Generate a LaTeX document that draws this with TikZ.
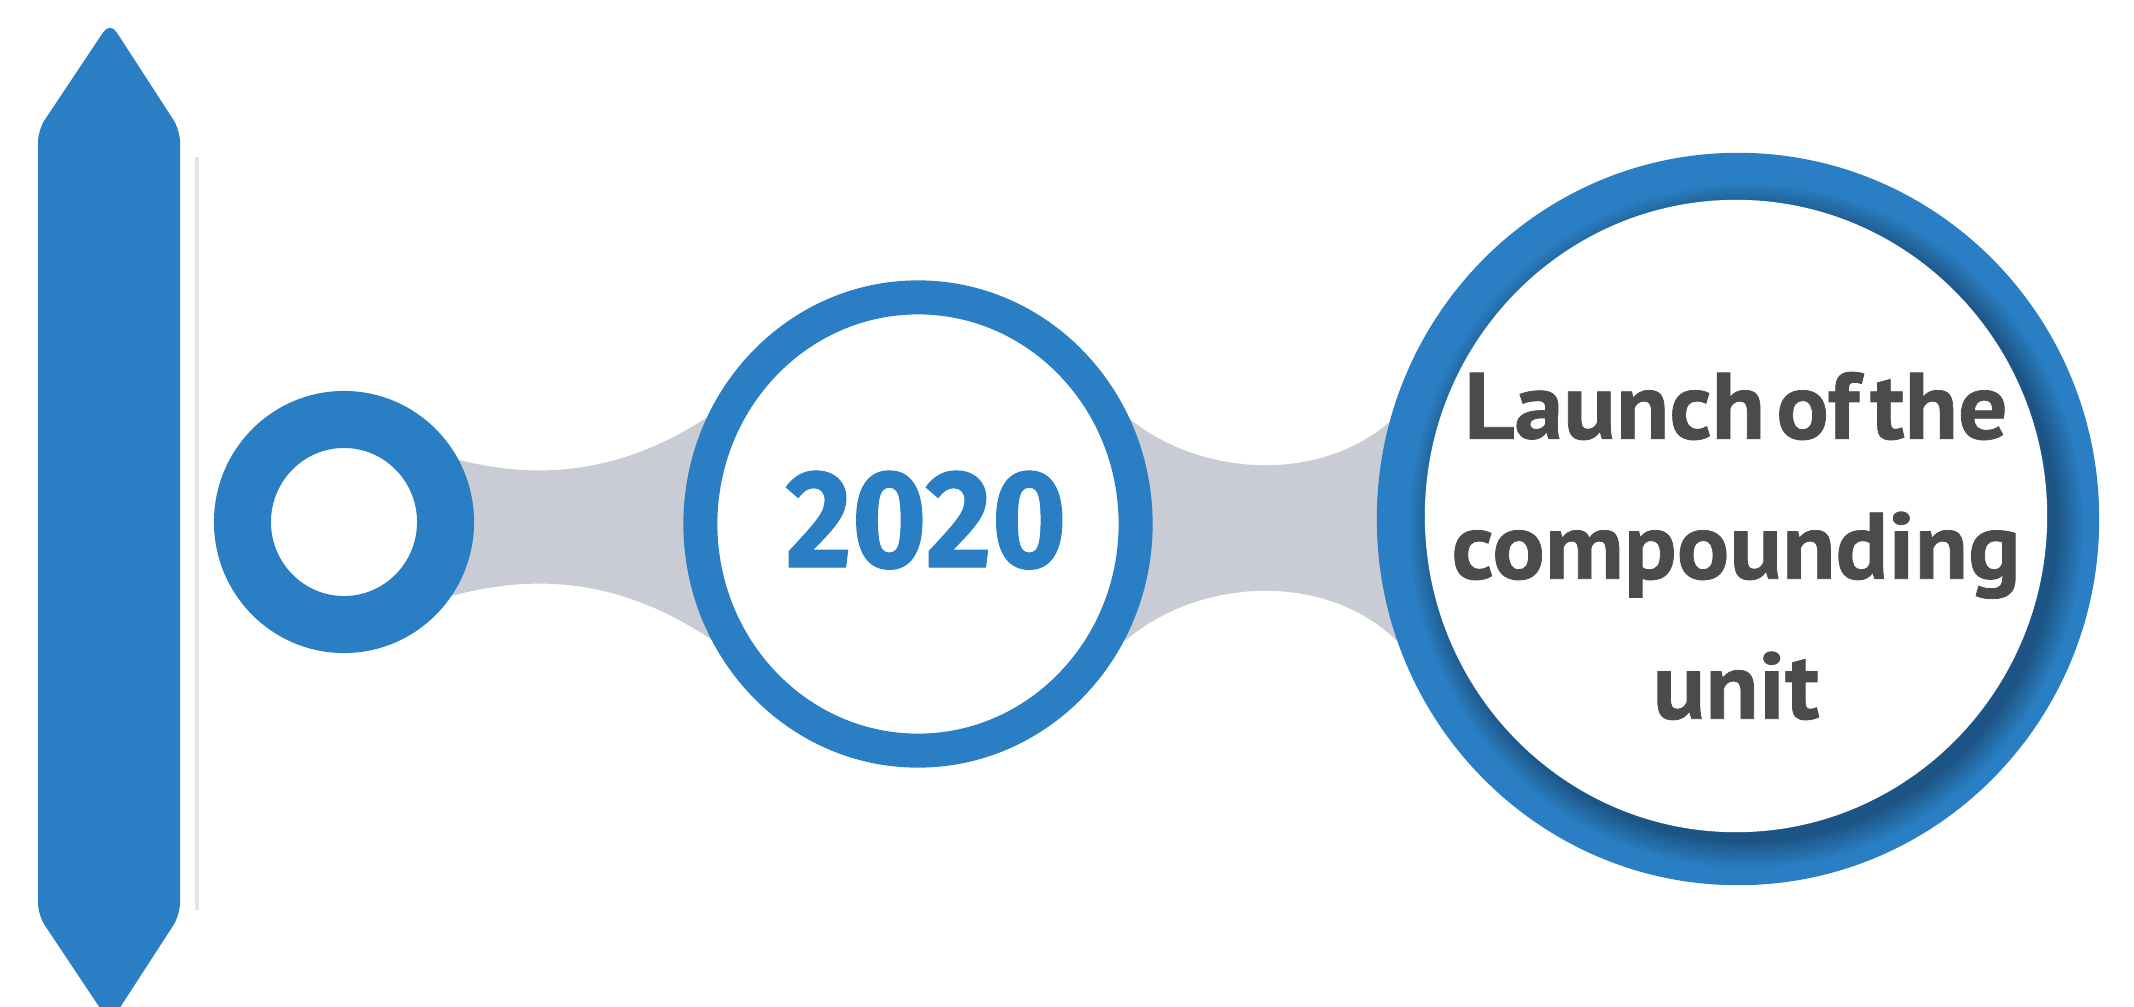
\documentclass[tikz,border=0pt]{standalone}
\usepackage{fontspec}
\usetikzlibrary{shapes.geometric}
\newfontfamily\ptsans{PT Sans}[FakeStretch=1.04, WordSpace=0.45, FakeBold=0.8]
\newfontfamily\yearfont{Fira Sans}[FakeStretch=0.92, FakeBold=0.8]
\definecolor{ringblue}{HTML}{2A7EC3}
\definecolor{linkgray}{HTML}{C9CBD5}
\definecolor{textgray}{HTML}{4B4B4D}
\definecolor{railgray}{HTML}{E4E4E8}
\tikzset{
  ringnode/.style={ellipse, draw=ringblue, fill=white, inner sep=0pt, outer sep=0pt},
  discnode/.style={ellipse, inner sep=0pt, outer sep=0pt},
  linkshape/.style={fill=linkgray},
}
\begin{document}
\begin{tikzpicture}[x=0.01cm,y=-0.01cm]
\useasboundingbox (0,0) rectangle (2134,1006);
\fill[white] (0,0) rectangle (2134,1006);
\clip (0,0) rectangle (2134,1006);

% connectors (behind the rings)
\fill[linkshape] (440,455) .. controls (520,478) and (615,485) .. (725,405)
  -- (725,649) .. controls (615,569) and (520,576) .. (440,599) -- cycle;
\fill[linkshape] (1125,415) .. controls (1200,480) and (1330,485) .. (1400,412)
  -- (1400,644) .. controls (1330,571) and (1200,576) .. (1125,641) -- cycle;

% left bar and thin rail
\fill[ringblue, rounded corners=0.12cm] (38,915) -- (38,130) -- (110,22) -- (180,130) -- (180,915) -- (110,1023) -- cycle;
\draw[railgray, line width=0.9pt] (197,157) -- (197,910);

% small ring
\node[ringnode, line width=0.57cm, minimum width=2.03cm, minimum height=2.05cm] (r1) at (344,522) {};

% middle ring
\node[ringnode, line width=0.34cm, minimum width=4.35cm, minimum height=4.53cm] (r2) at (918,524) {};
\node[anchor=base, text=ringblue, font=\yearfont\bfseries\fontsize{39.6}{40}\selectfont, inner sep=0pt] (y2020) at (926,567) {2020};

% big ring with inner shadow
\node[discnode, fill=ringblue, minimum width=7.22cm, minimum height=7.32cm] (r3) at (1738,519) {};
\begin{scope}
  \clip (1738,519) ellipse [x radius=361, y radius=366];
  \foreach \k in {0,...,13} {
    \fill[black, opacity=0.022] (1746,526) ellipse [x radius=311+2*\k, y radius=316+2*\k];
  }
\end{scope}
\node[discnode, fill=white, minimum width=6.22cm, minimum height=6.32cm] (r3in) at (1736,516) {};
\node[text=textgray, font=\ptsans\bfseries\fontsize{26.8}{39.8}\selectfont, align=center, inner sep=0pt] (launch) at (1736,546) {Launch of the\\compounding\\unit};
\end{tikzpicture}
\end{document}
